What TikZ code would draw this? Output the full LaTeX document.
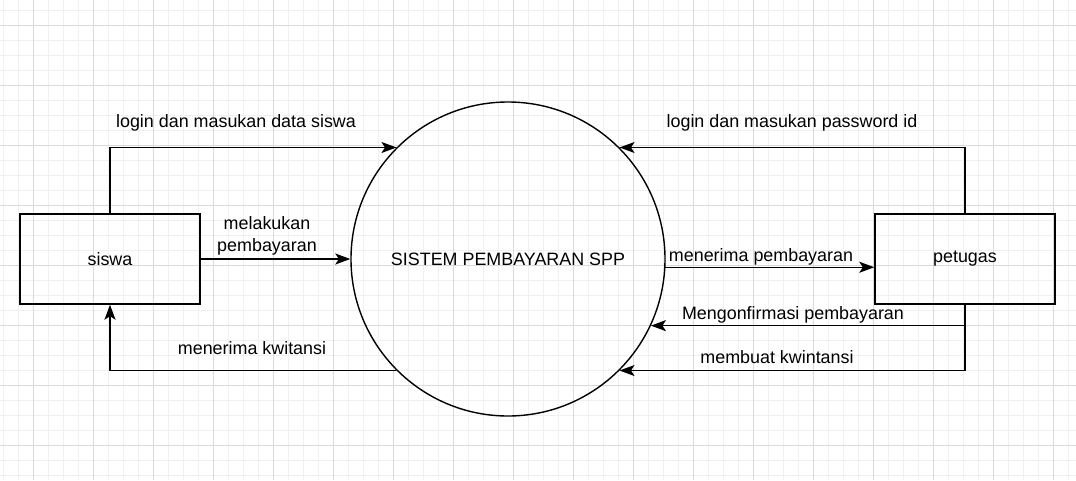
\documentclass[tikz,border=0pt]{standalone}
\usepackage{fontspec}
\setmainfont{Liberation Sans}
\usetikzlibrary{arrows.meta}
\definecolor{gridminor}{HTML}{F0F0F0}
\definecolor{gridmajor}{HTML}{DADADA}
\begin{document}
\begin{tikzpicture}[x=1pt, y=-1pt,
    every node/.style={font=\fontsize{17.9}{22}\selectfont},
    box/.style={draw, line width=1.4pt, minimum width=180pt, minimum height=90pt, inner sep=0pt},
    arr/.style={line width=1.4pt, -{Stealth[length=15pt, width=11pt, inset=3.5pt]}}]
    \useasboundingbox (0,0) rectangle (1076,480);
    \fill[white] (0,0) rectangle (1076,480);
    % grid
    \foreach \k in {0,...,71} \draw[gridminor, line width=1pt] (3+15*\k,0) -- (3+15*\k,480);
    \foreach \k in {0,...,31} \draw[gridminor, line width=1pt] (0,10+15*\k) -- (1076,10+15*\k);
    \foreach \k in {0,...,17} \draw[gridmajor, line width=1pt] (33+60*\k,0) -- (33+60*\k,480);
    \foreach \k in {0,...,7} \draw[gridmajor, line width=1pt] (0,25+60*\k) -- (1076,25+60*\k);

    \node[box] (siswa) at (110,259) {siswa};
    \node[box] (petugas) at (965,259) {petugas};
    \node[draw, circle, line width=1.4pt, minimum size=314pt, inner sep=0pt] (sys) at (508,259) {SISTEM PEMBAYARAN SPP};

    \draw[arr] (siswa.north) |- (sys.135);
    \draw[arr] (siswa.east) -- (sys.west);
    \draw[arr] (sys.225) -| (siswa.south);
    \draw[arr] (petugas.north) |- (sys.45);
    \draw[arr] (sys.-3) -- (sys.-3 -| petugas.west);
    \coordinate (konf) at (sys.-25.7 -| petugas.south);
    \draw[arr] (petugas.south) |- (sys.-45);
    \draw[arr] (konf) -- (sys.-25.7);

    \node (lsiswa) at (236,123) {login dan masukan data siswa};
    \node[align=center] (lbayar) at (267,236) {melakukan\\pembayaran};
    \node (lkwit) at (252,348) {menerima kwitansi};
    \node (lpetugas) at (792,123) {login dan masukan password id};
    \node (lterima) at (761,257) {menerima pembayaran};
    \node (lkonf) at (793,315) {Mengonfirmasi pembayaran};
    \node (lbuat) at (777,357) {membuat kwintansi};
\end{tikzpicture}
\end{document}
